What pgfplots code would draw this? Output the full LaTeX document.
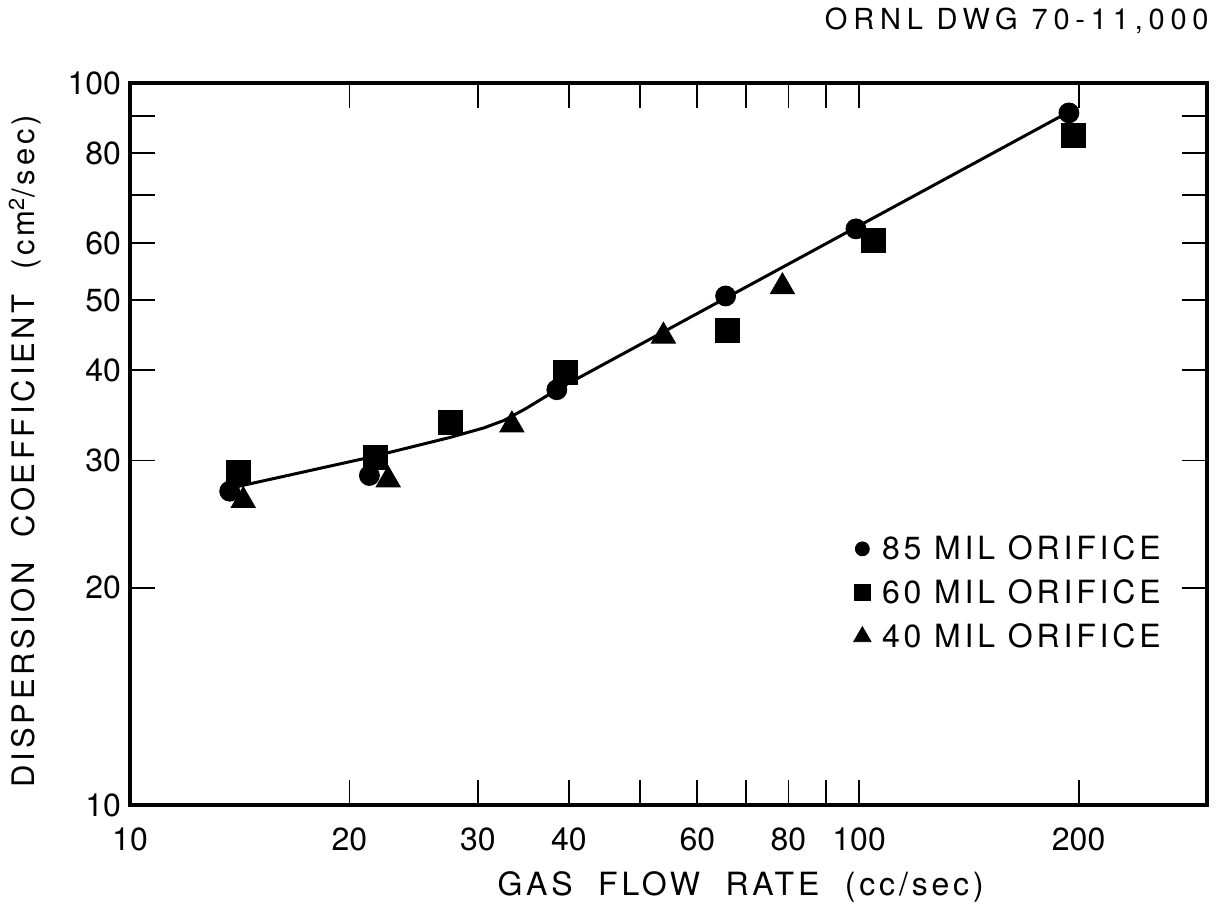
\documentclass[border=0pt]{standalone}
\usepackage{fontspec}
\setmainfont{TeX Gyre Heros}
\newfontfamily\lab{TeX Gyre Heros}[LetterSpace=12]
\newfontfamily\ttl{TeX Gyre Heros}[LetterSpace=20]
\usepackage{pgfplots}
\pgfplotsset{compat=1.18}

\pgfplotstableread{
x y
13.7 27.2
21.3 28.6
38.5 37.6
65.6 50.7
99 62.8
194 90.9
}\orifA
\pgfplotstableread{
x y
14.06 28.9
21.7 30.3
27.5 33.9
39.6 39.7
66 45.4
104.5 60.6
197 84.5
}\orifB
\pgfplotstableread{
x y
14.3 26.4
22.6 28.2
33.4 33.6
53.9 44.6
78.5 52.2
}\orifC
\pgfplotstableread{
x y
13.8 27.5
21.3 30.3
27.5 32.3
30.6 33.3
32.6 34.1
34.9 35.4
38.5 37.6
194 91.2
}\fit

\begin{document}
\begin{tikzpicture}
\path[use as bounding box] (0,0) rectangle (608pt,457pt);
\begin{axis}[
  at={(65pt,54.5pt)}, anchor=south west,
  scale only axis, width=538.5pt, height=361pt,
  xmode=log, ymode=log,
  xmin=10, xmax=300, ymin=10, ymax=100,
  xtick={10,20,30,40,50,60,70,80,90,100,200},
  xticklabels={10,20,30,40,,60,,80,,100,200},
  ytick={10,20,30,40,50,60,70,80,90,100},
  yticklabels={10,20,30,40,50,60,,80,,100},
  minor xtick={}, minor ytick={},
  major tick length=12.5pt,
  tick align=inside,
  tick style={line width=0.9pt, black},
  axis line style={line width=1.6pt},
  clip=false,
  /pgf/number format/assume math mode=true,
  ticklabel style={font=\fontsize{16}{18}\selectfont},
  xticklabel style={yshift=-8pt},
  yticklabel style={xshift=-1pt},
  legend style={at={(0.666,0.385)}, anchor=north west, draw=none, fill=none,
    font=\lab\fontsize{16}{18}\selectfont, row sep=4.5pt,
    /tikz/every odd column/.append style={column sep=3.5pt}},
  legend cell align=left,
  legend image code/.code={\draw[#1] plot coordinates {(0cm,0cm)};},
]
\addplot[black, line width=1.5pt, forget plot] table {\fit};
\addplot[only marks, mark=*, mark size=5pt, black, forget plot] table {\orifA};
\addplot[only marks, mark=triangle*, mark size=7pt, black, forget plot] table {\orifC};
\addplot[only marks, mark=square*, mark size=6pt, black, forget plot] table {\orifB};
\addlegendimage{only marks, mark=*, mark size=3.5pt, black}
\addlegendentry{85 MIL ORIFICE}
\addlegendimage{only marks, mark=square*, mark size=4pt, black}
\addlegendentry{60 MIL ORIFICE}
\addlegendimage{only marks, mark=triangle*, mark size=5pt, black}
\addlegendentry{40 MIL ORIFICE}
\node[rotate=90, anchor=center, font=\lab\fontsize{15.5}{17}\selectfont]
  at ([xshift=-52.5pt]rel axis cs:0,0.49) {DISPERSION\ \ COEFFICIENT\ \ (cm\textsuperscript{2}/sec)};
\node[anchor=center, font=\lab\fontsize{16}{18}\selectfont]
  at ([yshift=-41pt]rel axis cs:0.567,0) {GAS\ \ FLOW\ \ RATE\ \ (cc/sec)};
\node[anchor=east, inner sep=0pt, font=\ttl\fontsize{14.5}{17}\selectfont]
  at ([xshift=1pt,yshift=31pt]rel axis cs:1,1) {ORNL\ DWG\ 70-11,000};
\end{axis}
\end{tikzpicture}
\end{document}
